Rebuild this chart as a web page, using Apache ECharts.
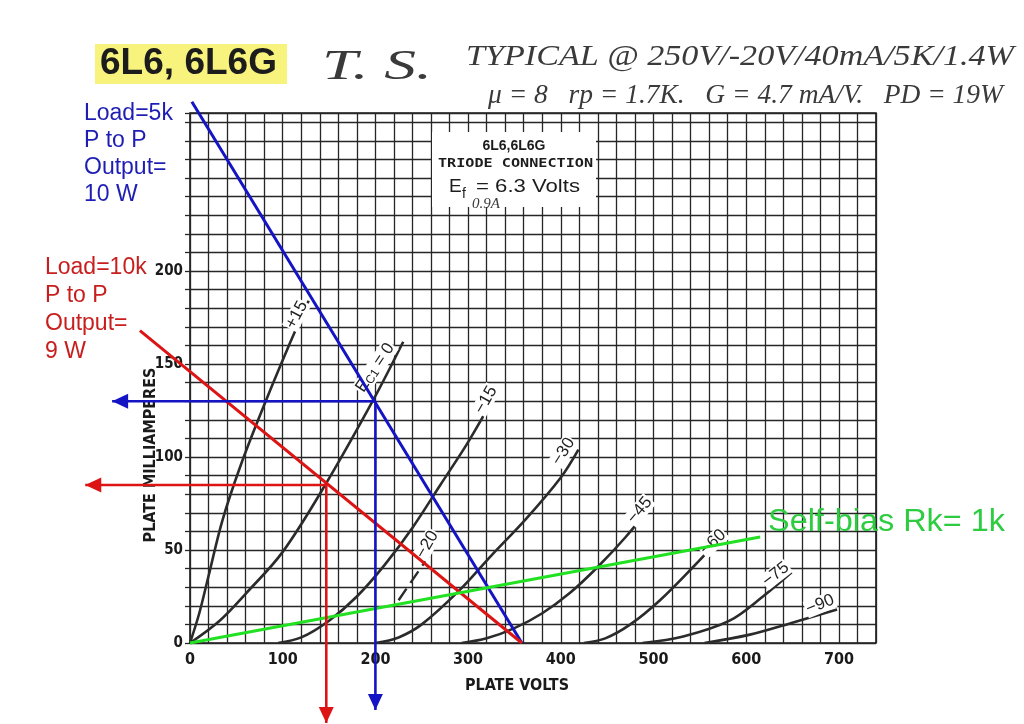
<!DOCTYPE html>
<html><head><meta charset="utf-8">
<script src="https://cdn.jsdelivr.net/npm/echarts@6/dist/echarts.min.js"></script>
<style>html,body{margin:0;padding:0;background:#fff}#c{width:1024px;height:724px}</style>
</head><body><div id="c"></div>
<script>
// ---------- DATA (plate volts, plate mA) ----------
const xTickLabels = [0, 100, 200, 300, 400, 500, 600, 700];
const yTickLabels = [0, 50, 100, 150, 200];
const curveLabels = ['+15', 'Ec1 = 0', '−15', '−30', '−45', '−60', '−75', '−90'];
const curveP15 = [[0,0],[10,16],[20,36],[35,66],[55,96],[80,128],[105,158],[128,184]];
const curve0   = [[0,0],[32,12],[61,27],[100,49],[147,86],[198,131],[230,162]];
const curveM15 = [[95,0],[120,3],[150,12],[180,25],[210,42],[240,62],[270,85],[300,108],[331,135]];
const curveM30 = [[200,0],[225,3],[250,10],[290,28],[325,47],[363,67],[400,89],[419,104]];
const curveM45 = [[293,0],[320,2.5],[350,8],[380,16],[410,27],[440,41],[470,57],[498,74]];
const curveM60 = [[425,0],[448,2.5],[475,10],[507,23],[543,41],[575,58]];
const curveM75 = [[488,0],[532,3.5],[582,12],[618,25],[649,38]];
const curveM90 = [[555,0],[604,4.5],[647,10.5],[698,18]];
const curveM20Sketch = [[225,23],[258,47]];
const curveM20Label = '−20';
const loadLine5k  = [[2,291],[358,0]];
const loadLine10k = [[-54,168],[358,0]];
const opPoint5k  = [200,130];
const opPoint10k = [147,85];
const arrowTip5k  = {volts: -84, mA: -36};
const arrowTip10k = {volts: -113, mA: -43};
const selfBiasLine = [[0,0],[615,57]];

// ---------- helpers ----------
const mctx = document.createElement('canvas').getContext('2d');
function fit(text, font, w){ mctx.font = font; return w / mctx.measureText(text).width; }
const NARROW = "'Liberation Sans Narrow','DejaVu Sans Condensed',sans-serif";
const SANS = "'Liberation Sans',Arial,sans-serif";
const HAND = "'Liberation Serif',serif";
function txt(text, x, y, size, opts){
  opts = opts || {};
  const weight = opts.weight || 'normal', style = opts.style || 'normal', fam = opts.family || SANS;
  const font = style + ' ' + weight + ' ' + size + 'px ' + fam;
  const el = {type:'text', x:x, y:y, z:100,
    style:{text:text, fontSize:size, fontWeight:weight, fontStyle:style, fontFamily:fam,
      fill: opts.color || '#222', align: opts.align || 'left', verticalAlign:'middle',
      textAlign: opts.align || 'left', textVerticalAlign:'middle', lineHeight: opts.lineHeight}};
  if (opts.width) el.scaleX = fit(text.split('\n')[0], font, opts.width);
  return el;
}
// label offset given in screen pixels -> label's rotated frame
function rotOff(dx, dy, deg){
  const t = deg * Math.PI / 180, c = Math.cos(t), s = Math.sin(t);
  return [dx * c - dy * s, dx * s + dy * c];
}

const curveColor = '#2b2b2b';
const labelCfg = [
  {rot:62, off:[-12,14]}, {rot:56, off:[-28,26]}, {rot:60, off:[-11,8]}, {rot:58, off:[-15,2]},
  {rot:50, off:[-12,5]}, {rot:43, off:[-10,7]}, {rot:38, off:[-16,2]}, {rot:22, off:[-17,-5]}
];
const curveData = [curveP15, curve0, curveM15, curveM30, curveM45, curveM60, curveM75, curveM90];

const series = curveData.map((pts, i) => ({
  type:'line', name: curveLabels[i], data: pts, smooth: 0.35, symbol:'none', z:3,
  lineStyle:{color: curveColor, width: 2.6},
  markPoint:{ symbol:'circle', symbolSize:0, silent:true,
    data:[{coord: pts[pts.length-1]}],
    label:{show:true, position:'inside', formatter: i === 1 ? 'E{s|C1} = 0' : curveLabels[i],
      rotate: labelCfg[i].rot, offset: rotOff(labelCfg[i].off[0], labelCfg[i].off[1], labelCfg[i].rot),
      color:'#222', fontSize:17, fontFamily: SANS, backgroundColor:'#fff', padding:[0,1],
      rich:{s:{fontSize:12, color:'#222', padding:[6,0,0,0]}}}}
}));
series.push({type:'line', name:'−20 sketch', data: curveM20Sketch, symbol:'none', z:3,
  lineStyle:{color: curveColor, width: 2.4, type:[14,7]},
  markPoint:{symbol:'circle', symbolSize:0, silent:true, data:[{coord: curveM20Sketch[1]}],
    label:{show:true, position:'inside', formatter: curveM20Label, rotate:60, offset: rotOff(-2,-11,60),
      color:'#222', fontSize:17, fontFamily:SANS, backgroundColor:'#fff', padding:[0,1]}}});

// annotation lines drawn through the axes' scales (custom series, not clipped)
function annoLine(name, pts, color, width, arrow){
  return {type:'custom', name:name, clip:false, z:6, silent:true, data: pts,
    renderItem:(params, api) => {
      if (params.dataIndex !== 0) return null;
      const p = pts.map(d => api.coord(d));
      const children = [{type:'polyline', shape:{points:p}, style:{stroke:color, lineWidth:width, fill:null}}];
      if (arrow) {
        const a = p[p.length-2], b = p[p.length-1];
        const dx = b[0]-a[0], dy = b[1]-a[1], L = Math.hypot(dx, dy), ux = dx/L, uy = dy/L;
        const len = 16, hw = 7.5;
        const bx = b[0]-ux*len, by = b[1]-uy*len;
        children.push({type:'polygon', shape:{points:[[b[0],b[1]],[bx-uy*hw, by+ux*hw],[bx+uy*hw, by-ux*hw]]},
          style:{fill:color}});
      }
      return {type:'group', children:children};
    }};
}
series.push(annoLine('Load 5k', loadLine5k, '#1414c4', 3, false));
series.push(annoLine('Load 10k', loadLine10k, '#dc1414', 3, false));
series.push(annoLine('Self-bias', selfBiasLine, '#22e022', 3, false));
series.push(annoLine('5k Ip', [opPoint5k, [arrowTip5k.volts, opPoint5k[1]]], '#1414c4', 2.6, true));
series.push(annoLine('5k Vp', [opPoint5k, [opPoint5k[0], arrowTip5k.mA]], '#1414c4', 2.6, true));
series.push(annoLine('10k Ip', [opPoint10k, [arrowTip10k.volts, opPoint10k[1]]], '#dc1414', 2.6, true));
series.push(annoLine('10k Vp', [opPoint10k, [opPoint10k[0], arrowTip10k.mA]], '#dc1414', 2.6, true));

const graphics = [
  {type:'rect', z:90, shape:{x:95, y:44, width:192, height:40}, style:{fill:'rgba(246,242,110,0.9)'}},
  txt('6L6, 6L6G', 100, 64, 36, {weight:'bold', color:'#1c1c1c', width:177}),
  txt('T. S.', 322, 68, 42, {style:'italic', family:HAND, color:'#3a3a3a', width:110}),
  txt('TYPICAL @ 250V/-20V/40mA/5K/1.4W', 466, 57, 30, {style:'italic', family:HAND, color:'#3a3a3a', width:548}),
  txt('μ = 8   rp = 1.7K.   G = 4.7 mA/V.   PD = 19W', 488, 96, 28, {style:'italic', family:HAND, color:'#3a3a3a', width:515}),
  txt('Load=5k\nP to P\nOutput=\n10 W', 84, 154, 23, {color:'#1e1eb4', lineHeight:27}),
  txt('Load=10k\nP to P\nOutput=\n9 W', 45, 310, 23, {color:'#c81e1e', lineHeight:28}),
  txt('Self-bias Rk= 1k', 768, 522, 31, {color:'#2ecc40', width:237}),
  {type:'rect', z:95, shape:{x:432, y:132, width:164, height:75}, style:{fill:'#fff'}},
  txt('6L6,6L6G', 514, 146, 14, {weight:'bold', align:'center', color:'#1c1c1c'}),
  txt('TRIODE CONNECTION', 438, 164, 13, {weight:'bold', color:'#1c1c1c', width:155, family:"'DejaVu Sans Mono',monospace"}),
  txt('E', 449, 187, 19, {color:'#1c1c1c'}),
  txt('f', 462, 194, 14, {color:'#1c1c1c'}),
  txt('= 6.3 Volts', 476, 187, 19, {color:'#1c1c1c', width:104}),
  txt('0.9A', 472, 204, 15, {style:'italic', family:HAND, color:'#3a3a3a'})
];

const chart = echarts.init(document.getElementById('c'), null, {renderer:'canvas'});
chart.setOption({
  backgroundColor:'#fff',
  animation:false,
  grid:{left:190, right:148, top:113, bottom:81, show:true, borderColor:'#1a1a1a', borderWidth:1.6, backgroundColor:'transparent', outerBoundsMode:'none'},
  xAxis:{type:'value', min:0, max:740, interval:20,
    name:'PLATE VOLTS', nameLocation:'middle', nameGap:35, nameMoveOverlap:false,
    nameTextStyle:{fontFamily:NARROW, fontWeight:'bold', fontSize:16, color:'#1a1a1a', padding:[0,32,0,0]},
    axisLine:{show:false}, axisTick:{show:false},
    axisLabel:{interval:0, margin:9, fontFamily:NARROW, fontWeight:'bold', fontSize:16, color:'#1a1a1a',
      formatter: v => xTickLabels.includes(v) ? String(v) : ''},
    splitLine:{show:true, lineStyle:{color:'#262626', width:1.3}}},
  yAxis:{type:'value', min:0, max:285, interval:10,
    name:'PLATE MILLIAMPERES', nameLocation:'middle', nameGap:31, nameRotate:90, nameMoveOverlap:false,
    nameTextStyle:{fontFamily:NARROW, fontWeight:'bold', fontSize:16, color:'#1a1a1a', padding:[0,154,0,0]},
    axisLine:{show:false}, axisTick:{show:true, length:5, lineStyle:{color:'#262626', width:1.3}},
    axisLabel:{interval:0, margin:7, fontFamily:NARROW, fontWeight:'bold', fontSize:15, color:'#1a1a1a',
      formatter: v => yTickLabels.includes(v) ? String(v) : ''},
    splitLine:{show:true, lineStyle:{color:'#262626', width:1.3}}},
  series: series,
  graphic: graphics
});
</script></body></html>
